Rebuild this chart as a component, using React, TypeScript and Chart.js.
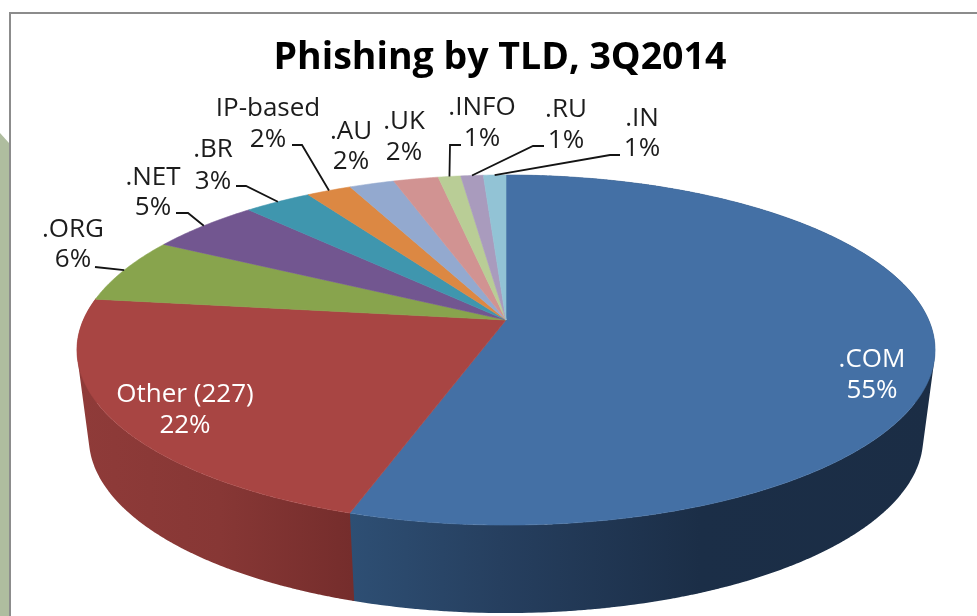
import React, { useEffect, useRef } from "react";
import { Chart, registerables } from "chart.js";

Chart.register(...registerables);

// Share of phishing domains per top-level domain, clockwise from twelve o'clock.
const categories = [".COM", "Other (227)", ".ORG", ".NET", ".BR", "IP-based", ".AU", ".UK", ".INFO", ".RU", ".IN"];
const shares = [55, 22, 6, 5, 3, 2, 2, 2, 1, 1, 1];
const sliceColors = ["#4470a5", "#a84543", "#88a44d", "#725690", "#3f96ae", "#dc8843", "#93a9cf", "#d19392", "#b9cd96", "#a99bbd", "#92c3d5"];

// Where each caption sits: centre x, name centre y, percent centre y.
const captionX = [872, 185, 73, 153, 213, 268, 351, 404, 482, 566, 642];
const captionNameY = [360, 395, 230, 178, 150, 109, 132, 122, 108, 110, 119];
const captionPctY = [391, 426, 260, 208, 182, 140, 162, 153, 139, 141, 149];

// Leader lines start beside the percent text and take one short horizontal run.
const leaderStartX = [null, null, 95, 176, 236, 292, null, null, 461, 544, 620];
const leaderElbowX = [null, null, 95, 188, 246, 302, null, null, 450, 533, 610];
const leaderY = [null, null, 267, 213, 186, 145, null, null, 145, 146, 155];

// Side wall shading, left to right, for the two slices that face the viewer.
const wallStops: Record<number, [number, string][]> = {
  0: [[348, "#2e4f74"], [500, "#263f5f"], [700, "#1b2e47"], [935, "#1b2d45"]],
  1: [[80, "#8f3b39"], [220, "#873735"], [352, "#752d2c"]],
};

// Perspective disc: a unit circle projected so near edges spread wider than far ones.
const TILT = 0.1715;
const CX = 506;
const TOP_APEX_Y = 320;
const BOTTOM_APEX_Y = 408;
const TOP_RX = 422.7;
const BOTTOM_RX = 411;
const RY = 169.9;

function project(angle: number, apexY: number, rx: number) {
  const u = Math.cos(angle);
  const v = Math.sin(angle);
  const w = 1 - TILT * v;
  return { x: CX + (rx * u) / w, y: apexY + (RY * v) / w };
}

function sampleAngles(start: number, end: number) {
  const n = Math.max(2, Math.ceil((end - start) / 0.01));
  return Array.from({ length: n + 1 }, (_, i) => start + ((end - start) * i) / n);
}

const tiltedPie = {
  id: "tiltedPie",
  beforeDraw(chart: any) {
    const { ctx, width, height } = chart;
    ctx.save();
    ctx.fillStyle = "#ffffff";
    ctx.fillRect(0, 0, width, height);
    ctx.fillStyle = "#afbd9f";
    ctx.beginPath();
    ctx.moveTo(0, 133);
    ctx.lineTo(9, 143);
    ctx.lineTo(9, height);
    ctx.lineTo(0, height);
    ctx.closePath();
    ctx.fill();
    ctx.fillStyle = "#8c8c8c";
    ctx.fillRect(9, 12, width - 9, 2);
    ctx.fillRect(9, 12, 2, height - 12);
    ctx.restore();
  },
  beforeDatasetDraw(chart: any, args: any) {
    const { ctx } = chart;
    const arcs = args.meta.data;
    ctx.save();

    // Walls first, so the top face covers whatever lies behind it. Each slice's
    // wall is the union of thin quads between rims, filled as one path.
    arcs.forEach((arc: any, i: number) => {
      const { startAngle, endAngle } = arc.getProps(["startAngle", "endAngle"], true);
      const angles = sampleAngles(startAngle, endAngle);
      const stops = wallStops[i];
      if (!stops) return;
      const x0 = stops[0][0];
      const x1 = stops[stops.length - 1][0];
      const g = ctx.createLinearGradient(x0, 0, x1, 0);
      stops.forEach(([x, c]) => g.addColorStop((x - x0) / (x1 - x0), c));
      ctx.fillStyle = g;
      ctx.beginPath();
      for (let k = 0; k < angles.length - 1; k++) {
        const a = project(angles[k], TOP_APEX_Y, TOP_RX);
        const b = project(angles[k + 1] + 0.004, TOP_APEX_Y, TOP_RX);
        const c = project(angles[k + 1] + 0.004, BOTTOM_APEX_Y, BOTTOM_RX);
        const d = project(angles[k], BOTTOM_APEX_Y, BOTTOM_RX);
        // Keep every quad wound the same way so the nonzero fill has no holes.
        const area = (b.x - a.x) * (d.y - a.y) - (b.y - a.y) * (d.x - a.x);
        const pts = area > 0 ? [a, b, c, d] : [d, c, b, a];
        ctx.moveTo(pts[0].x, pts[0].y);
        pts.slice(1).forEach((p) => ctx.lineTo(p.x, p.y));
        ctx.closePath();
      }
      ctx.fill();
    });

    // Top face of each slice.
    arcs.forEach((arc: any) => {
      const { startAngle, endAngle } = arc.getProps(["startAngle", "endAngle"], true);
      ctx.beginPath();
      ctx.moveTo(CX, TOP_APEX_Y);
      sampleAngles(startAngle, endAngle).forEach((t) => {
        const p = project(t, TOP_APEX_Y, TOP_RX);
        ctx.lineTo(p.x, p.y);
      });
      ctx.closePath();
      ctx.fillStyle = arc.options.backgroundColor;
      ctx.strokeStyle = arc.options.backgroundColor;
      ctx.lineWidth = 0.6;
      ctx.fill();
      ctx.stroke();
    });

    // Leader lines run from the caption to the rim at each slice's middle.
    ctx.strokeStyle = "#141414";
    ctx.lineWidth = 1.8;
    arcs.forEach((arc: any, i: number) => {
      if (leaderStartX[i] == null) return;
      const { startAngle, endAngle } = arc.getProps(["startAngle", "endAngle"], true);
      const rim = project((startAngle + endAngle) / 2, TOP_APEX_Y, TOP_RX);
      ctx.beginPath();
      ctx.moveTo(leaderStartX[i], leaderY[i]);
      ctx.lineTo(leaderElbowX[i], leaderY[i]);
      ctx.lineTo(rim.x, rim.y);
      ctx.stroke();
    });

    // Captions: slice name over its percentage.
    ctx.textAlign = "center";
    ctx.textBaseline = "middle";
    ctx.font = '26px "Open Sans"';
    categories.forEach((name, i) => {
      ctx.fillStyle = i < 2 ? "#ffffff" : "#1c1c1c";
      ctx.fillText(name, captionX[i], captionNameY[i]);
      ctx.fillText(`${shares[i]}%`, captionX[i], captionPctY[i]);
    });

    ctx.restore();
    return false;
  },
};

export default function App() {
  const ref = useRef<HTMLCanvasElement>(null);
  useEffect(() => {
    const chart = new Chart(ref.current as HTMLCanvasElement, {
      type: "pie",
      data: {
        labels: categories,
        datasets: [{ data: shares, backgroundColor: sliceColors, borderWidth: 0 }],
      },
      options: {
        animation: false,
        responsive: false,
        layout: { padding: { left: 23 } },
        plugins: {
          legend: { display: false },
          tooltip: { enabled: false },
          title: {
            display: true,
            text: "Phishing by TLD, 3Q2014",
            color: "#000000",
            font: { family: '"Open Sans"', size: 37.5, weight: "bold" },
            padding: { top: 36, bottom: 10 },
          },
        },
      },
      plugins: [tiltedPie],
    } as any);
    return () => chart.destroy();
  }, []);
  return (
    <canvas
      ref={ref}
      width={977}
      height={616}
      style={{ position: "fixed", left: 0, top: 0, display: "block" }}
    />
  );
}
